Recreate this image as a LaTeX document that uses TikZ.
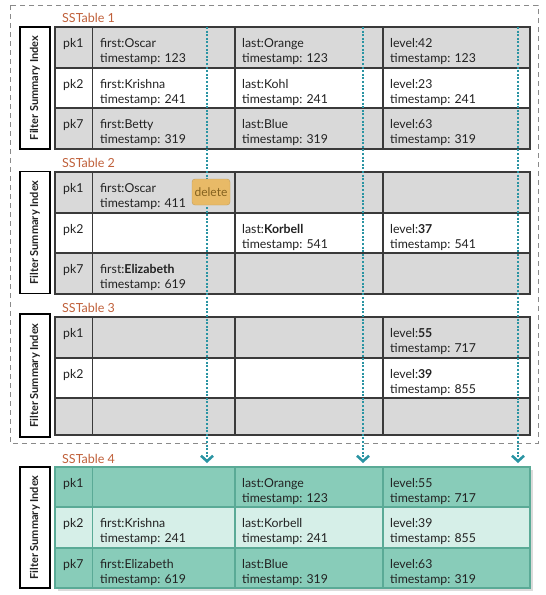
\documentclass[tikz,border=0pt]{standalone}
\usepackage{fontspec}
\setmainfont{Lato}
\usetikzlibrary{arrows.meta}
\definecolor{txtcol}{HTML}{222222}
\definecolor{lblcol}{HTML}{C0603A}
\definecolor{grayfill}{HTML}{D9D9D9}
\definecolor{gridcol}{HTML}{3A3A3A}
\definecolor{teal1}{HTML}{88CCB9}
\definecolor{teal2}{HTML}{D6EFE8}
\definecolor{tealgrid}{HTML}{5AAA96}
\definecolor{flowcol}{HTML}{2A94A3}
\definecolor{delfill}{HTML}{E8BA67}
\definecolor{deltext}{HTML}{85621F}
\definecolor{dashcol}{HTML}{8A8A8A}
\tikzset{
  txt/.style={anchor=base west, inner sep=0pt, font=\fontsize{12.3}{15}\selectfont, text=txtcol},
  sslabel/.style={anchor=base west, inner sep=0pt, font=\fontsize{12.5}{15}\selectfont, text=lblcol},
  filterbox/.style={draw=black, line width=1.8pt, fill=white, rotate=90, minimum width=122pt, minimum height=30pt, inner sep=0pt, font=\fontsize{11}{12}\selectfont\bfseries, text=txtcol},
  graygrid/.style={draw=gridcol, line width=1.2pt},
  tealgridst/.style={draw=tealgrid, line width=1.1pt},
  dashbox/.style={draw=dashcol, line width=0.9pt, dash pattern=on 5pt off 4pt},
  flow/.style={draw=flowcol, line width=2.2pt, dash pattern=on 2pt off 1.6pt, -{Straight Barb[length=5.5pt,width=12pt,line width=2.6pt]}},
  delbox/.style={fill=delfill, draw=delfill!85!black, line width=0.4pt, rounded corners=3pt, minimum width=38pt, minimum height=26pt, inner sep=0pt, font=\fontsize{12}{13}\selectfont, text=deltext}
}
% #1..#4 row boundaries, #5 outer fill, #6 middle fill, #7 grid style
\newcommand\sstable[7]{%
  \fill[#5] (55,#1) rectangle (530,#2);
  \fill[#6] (55,#2) rectangle (530,#3);
  \fill[#5] (55,#3) rectangle (530,#4);
  \draw[#7] (55,#1) rectangle (530,#4);
  \draw[#7] (55,#2) -- (530,#2) (55,#3) -- (530,#3);
  \draw[#7] (92.5,#1) -- (92.5,#4) (235,#1) -- (235,#4) (383,#1) -- (383,#4);
}
% #1 name, #2 x, #3 row top, #4 line 1, #5 line 2
\newcommand\celltext[5]{%
  \node[txt] (#1a) at (#2,#3+20) {#4};
  \node[txt] (#1b) at (#2,#3+35) {#5};
}
\newcommand\celltextone[4]{%
  \node[txt] (#1) at (#2,#3+20) {#4};
}
\begin{document}
\begin{tikzpicture}[x=1pt,y=-1pt]
\useasboundingbox (0,0) rectangle (546,595);
\fill[white] (0,0) rectangle (546,595);

% outer dashed box
\draw[dashbox] (10,5) rectangle (538,443);

% ---------------- SSTable 1
\node[sslabel] (lab1) at (62,22) {SSTable 1};
\node[filterbox] (f1) at (35,88) {Filter Summary Index};
\sstable{27}{68}{108}{149}{grayfill}{white}{graygrid}
\celltextone{t1pa}{63}{27}{pk1}
\celltextone{t1pb}{63}{68}{pk2}
\celltextone{t1pc}{63}{108}{pk7}
\celltext{t1fa}{100}{27}{first:Oscar}{timestamp: 123}
\celltext{t1fb}{100}{68}{first:Krishna}{timestamp: 241}
\celltext{t1fc}{100}{108}{first:Betty}{timestamp: 319}
\celltext{t1la}{242}{27}{last:Orange}{timestamp: 123}
\celltext{t1lb}{242}{68}{last:Kohl}{timestamp: 241}
\celltext{t1lc}{242}{108}{last:Blue}{timestamp: 319}
\celltext{t1va}{390}{27}{level:42}{timestamp: 123}
\celltext{t1vb}{390}{68}{level:23}{timestamp: 241}
\celltext{t1vc}{390}{108}{level:63}{timestamp: 319}

% ---------------- SSTable 2
\node[sslabel] (lab2) at (62,167) {SSTable 2};
\node[filterbox] (f2) at (35,232.5) {Filter Summary Index};
\sstable{172}{213}{253}{294}{grayfill}{white}{graygrid}
\celltextone{t2pa}{63}{172}{pk1}
\celltextone{t2pb}{63}{213}{pk2}
\celltextone{t2pc}{63}{253}{pk7}
\celltext{t2fa}{100}{172}{first:Oscar}{timestamp: 411}
\celltext{t2fc}{100}{253}{first:\textbf{Elizabeth}}{timestamp: 619}
\celltext{t2lb}{242}{213}{last:\textbf{Korbell}}{timestamp: 541}
\celltext{t2vb}{390}{213}{level:\textbf{37}}{timestamp: 541}

% ---------------- SSTable 3
\node[sslabel] (lab3) at (62,312.5) {SSTable 3};
\node[filterbox, minimum width=123pt] (f3) at (35,375.5) {Filter Summary Index};
\sstable{317}{358}{398}{435}{grayfill}{white}{graygrid}
\celltextone{t3pa}{63}{317}{pk1}
\celltextone{t3pb}{63}{358}{pk2}
\celltext{t3va}{390}{317}{level:\textbf{55}}{timestamp: 717}
\celltext{t3vb}{390}{358}{level:\textbf{39}}{timestamp: 855}

% ---------------- SSTable 4
\node[sslabel] (lab4) at (62,463) {SSTable 4};
\node[filterbox, minimum width=121pt] (f4) at (35,527.5) {Filter Summary Index};
\fill[black!14] (58,470) rectangle (533,591);
\sstable{467}{507}{548}{588}{teal1}{teal2}{tealgridst}
\celltextone{t4pa}{63}{467}{pk1}
\celltextone{t4pb}{63}{507}{pk2}
\celltextone{t4pc}{63}{548}{pk7}
\celltext{t4fb}{100}{507}{first:Krishna}{timestamp: 241}
\celltext{t4fc}{100}{548}{first:Elizabeth}{timestamp: 619}
\celltext{t4la}{242}{467}{last:Orange}{timestamp: 123}
\celltext{t4lb}{242}{507}{last:Korbell}{timestamp: 241}
\celltext{t4lc}{242}{548}{last:Blue}{timestamp: 319}
\celltext{t4va}{390}{467}{level:55}{timestamp: 717}
\celltext{t4vb}{390}{507}{level:39}{timestamp: 855}
\celltext{t4vc}{390}{548}{level:63}{timestamp: 319}

% ---------------- merge flows
\coordinate (s1) at (207,27);  \coordinate (e1) at (207,463);
\coordinate (s2) at (363,27);  \coordinate (e2) at (363,463);
\coordinate (s3) at (518,27);  \coordinate (e3) at (518,463);
\draw[flow] (s1) -- (e1);
\draw[flow] (s2) -- (e2);
\draw[flow] (s3) -- (e3);

% delete marker
\node[delbox] (del) at (211,192) {delete};
\end{tikzpicture}
\end{document}
